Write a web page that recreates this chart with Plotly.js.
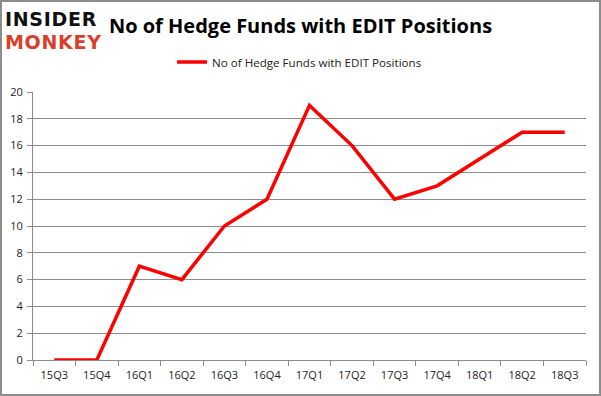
<!DOCTYPE html>
<html>
<head>
<meta charset="utf-8">
<script src="https://cdn.plot.ly/plotly-3.0.1.min.js"></script>
<style>
body{margin:0;padding:0;background:#fff;}
#wrap{position:relative;width:601px;height:396px;}
#chart{width:601px;height:396px;}
#frame{position:absolute;left:0;top:0;width:597px;height:392px;border:2px solid #8c8c8c;pointer-events:none;}
#logo{position:absolute;left:5px;top:8px;font-family:"DejaVu Sans",sans-serif;font-weight:bold;font-size:19px;line-height:22.5px;letter-spacing:0.7px;pointer-events:none;}
#logo .a{color:#111;}
#logo .b{color:#d9402b;}
</style>
</head>
<body>
<div id="wrap"><div id="chart"></div><div id="logo"><div class="a">INSIDER</div><div class="b">MONKEY</div></div><div id="frame"></div></div>
<script>
const quarters = ["15Q3","15Q4","16Q1","16Q2","16Q3","16Q4","17Q1","17Q2","17Q3","17Q4","18Q1","18Q2","18Q3"];
const hedgeFunds = [0,0,7,6,10,12,19,16,12,13,15,17,17];
const seriesName = "No of Hedge Funds with EDIT Positions";
const yTicks = [0,2,4,6,8,10,12,14,16,18,20];

const trace = {
  x: quarters, y: hedgeFunds, type: "scatter", mode: "lines", name: seriesName,
  line: {color: "#ff0000", width: 3.5}
};
const layout = {
  width: 601, height: 396,
  margin: {l: 33, r: 15, t: 92, b: 36},
  paper_bgcolor: "#fff", plot_bgcolor: "#fff",
  font: {family: "Open Sans, Liberation Sans, sans-serif", color: "#222", size: 11},
  title: {text: "<b>No of Hedge Funds with EDIT Positions</b>", x: 0.5, xanchor: "center", y: 0.935, yanchor: "middle",
    font: {family: "Open Sans, sans-serif", size: 20, color: "#000"}},
  showlegend: true,
  legend: {orientation: "h", x: 0.482, xanchor: "center", y: 1.112, yanchor: "middle",
    font: {size: 11.6, color: "#222"}},
  xaxis: {type: "category", range: [-0.5, 12.5], showgrid: false, showline: true, linecolor: "#8c8c8c", linewidth: 1,
    ticks: "outside", ticklen: 5, tickcolor: "#8c8c8c", tickson: "boundaries", ticklabelstandoff: 5,
    tickfont: {size: 11, color: "#222"}, fixedrange: true},
  yaxis: {range: [0, 20], tickvals: yTicks, showgrid: true, gridcolor: "#8c8c8c", gridwidth: 1,
    showline: true, linecolor: "#8c8c8c", linewidth: 1, ticks: "outside", ticklen: 5, tickcolor: "#8c8c8c",
    ticklabelstandoff: 2, tickfont: {size: 11, color: "#222"}, zeroline: false, fixedrange: true}
};
Plotly.newPlot("chart", [trace], layout, {displayModeBar: false, staticPlot: true});
</script>
</body>
</html>
